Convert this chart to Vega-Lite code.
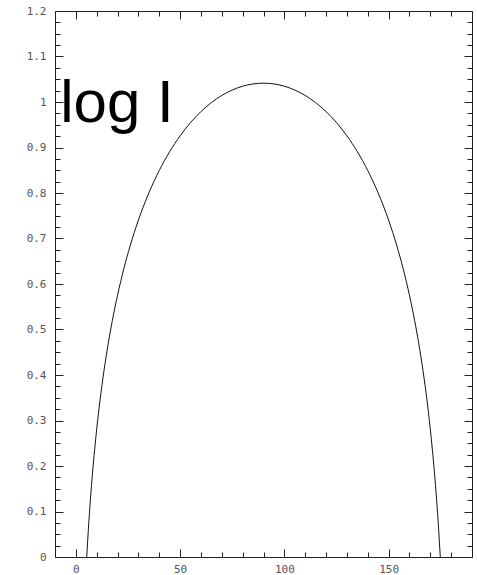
{
  "$schema": "https://vega.github.io/schema/vega-lite/v6.json",
  "width": 417,
  "height": 546,
  "autosize": {"type": "none"},
  "padding": {"left": 55, "top": 11, "right": 5, "bottom": 18},
  "background": "white",
  "config": {
    "view": {"stroke": "#222", "strokeWidth": 1},
    "axis": {
      "grid": false,
      "domain": false,
      "title": null,
      "labelFont": "DejaVu Sans Mono",
      "labelFontSize": 11,
      "labelColor": "#555555",
      "labelFlush": false,
      "labelOverlap": false,
      "tickColor": "#222",
      "tickWidth": 1
    }
  },
  "datasets": {
    "curve": [
      {"theta": 5.22, "logI": 0.0},
      {"theta": 6, "logI": 0.0606},
      {"theta": 7, "logI": 0.1273},
      {"theta": 8, "logI": 0.1850},
      {"theta": 9, "logI": 0.2357},
      {"theta": 10, "logI": 0.2811},
      {"theta": 12, "logI": 0.3593},
      {"theta": 14, "logI": 0.4251},
      {"theta": 16, "logI": 0.4817},
      {"theta": 18, "logI": 0.5314},
      {"theta": 20, "logI": 0.5754},
      {"theta": 23, "logI": 0.6333},
      {"theta": 26, "logI": 0.6832},
      {"theta": 30, "logI": 0.7404},
      {"theta": 35, "logI": 0.8000},
      {"theta": 40, "logI": 0.8495},
      {"theta": 45, "logI": 0.8909},
      {"theta": 50, "logI": 0.9256},
      {"theta": 55, "logI": 0.9548},
      {"theta": 60, "logI": 0.9789},
      {"theta": 65, "logI": 0.9987},
      {"theta": 70, "logI": 1.0144},
      {"theta": 75, "logI": 1.0263},
      {"theta": 80, "logI": 1.0347},
      {"theta": 85, "logI": 1.0397},
      {"theta": 90, "logI": 1.0414},
      {"theta": 95, "logI": 1.0397},
      {"theta": 100, "logI": 1.0347},
      {"theta": 105, "logI": 1.0263},
      {"theta": 110, "logI": 1.0144},
      {"theta": 115, "logI": 0.9987},
      {"theta": 120, "logI": 0.9789},
      {"theta": 125, "logI": 0.9548},
      {"theta": 130, "logI": 0.9256},
      {"theta": 135, "logI": 0.8909},
      {"theta": 140, "logI": 0.8495},
      {"theta": 145, "logI": 0.8000},
      {"theta": 150, "logI": 0.7404},
      {"theta": 154, "logI": 0.6832},
      {"theta": 157, "logI": 0.6333},
      {"theta": 160, "logI": 0.5754},
      {"theta": 162, "logI": 0.5314},
      {"theta": 164, "logI": 0.4817},
      {"theta": 166, "logI": 0.4251},
      {"theta": 168, "logI": 0.3593},
      {"theta": 170, "logI": 0.2811},
      {"theta": 171, "logI": 0.2357},
      {"theta": 172, "logI": 0.1850},
      {"theta": 173, "logI": 0.1273},
      {"theta": 174, "logI": 0.0606},
      {"theta": 174.78, "logI": 0.0}
    ],
    "caption": [{"x": -7.5, "y": 0.955, "label": "log I"}]
  },
  "resolve": {"axis": {"x": "independent", "y": "independent"}},
  "layer": [
    {
      "data": {"name": "curve"},
      "mark": {"type": "line", "color": "#111", "strokeWidth": 1, "interpolate": "monotone"},
      "encoding": {
        "x": {"field": "theta", "type": "quantitative",
          "scale": {"domain": [-10, 190], "nice": false, "zero": false},
          "axis": {"orient": "bottom", "values": [0, 50, 100, 150], "ticks": false, "labelPadding": 6, "format": "d"}},
        "y": {"field": "logI", "type": "quantitative",
          "scale": {"domain": [0, 1.2], "nice": false},
          "axis": {"orient": "left", "values": [0, 0.1, 0.2, 0.3, 0.4, 0.5, 0.6, 0.7, 0.8, 0.9, 1, 1.1, 1.2], "ticks": false, "labelPadding": 9, "format": "~g"}}
      }
    },
    {
      "data": {"name": "curve"},
      "mark": {"type": "line", "opacity": 0},
      "encoding": {
        "x": {"field": "theta", "type": "quantitative",
          "axis": {"orient": "bottom", "values": [0, 50, 100, 150], "labels": false, "tickSize": -8}},
        "y": {"field": "logI", "type": "quantitative",
          "axis": {"orient": "left", "values": [0, 0.1, 0.2, 0.3, 0.4, 0.5, 0.6, 0.7, 0.8, 0.9, 1, 1.1, 1.2], "labels": false, "tickSize": -8}}
      }
    },
    {
      "data": {"name": "curve"},
      "mark": {"type": "line", "opacity": 0},
      "encoding": {
        "x": {"field": "theta", "type": "quantitative",
          "axis": {"orient": "bottom", "values": [0, 10, 20, 30, 40, 50, 60, 70, 80, 90, 100, 110, 120, 130, 140, 150, 160, 170, 180], "labels": false, "tickSize": -5}},
        "y": {"field": "logI", "type": "quantitative",
          "axis": {"orient": "left", "values": [0, 0.025, 0.05, 0.075, 0.1, 0.125, 0.15, 0.175, 0.2, 0.225, 0.25, 0.275, 0.3, 0.325, 0.35, 0.375, 0.4, 0.425, 0.45, 0.475, 0.5, 0.525, 0.55, 0.575, 0.6, 0.625, 0.65, 0.675, 0.7, 0.725, 0.75, 0.775, 0.8, 0.825, 0.85, 0.875, 0.9, 0.925, 0.95, 0.975, 1, 1.025, 1.05, 1.075, 1.1, 1.125, 1.15, 1.175, 1.2], "labels": false, "tickSize": -5}}
      }
    },
    {
      "data": {"name": "curve"},
      "mark": {"type": "line", "opacity": 0},
      "encoding": {
        "x": {"field": "theta", "type": "quantitative",
          "axis": {"orient": "top", "values": [0, 50, 100, 150], "labels": false, "tickSize": -8}},
        "y": {"field": "logI", "type": "quantitative",
          "axis": {"orient": "right", "values": [0, 0.1, 0.2, 0.3, 0.4, 0.5, 0.6, 0.7, 0.8, 0.9, 1, 1.1, 1.2], "labels": false, "tickSize": -8}}
      }
    },
    {
      "data": {"name": "curve"},
      "mark": {"type": "line", "opacity": 0},
      "encoding": {
        "x": {"field": "theta", "type": "quantitative",
          "axis": {"orient": "top", "values": [0, 10, 20, 30, 40, 50, 60, 70, 80, 90, 100, 110, 120, 130, 140, 150, 160, 170, 180], "labels": false, "tickSize": -5}},
        "y": {"field": "logI", "type": "quantitative",
          "axis": {"orient": "right", "values": [0, 0.025, 0.05, 0.075, 0.1, 0.125, 0.15, 0.175, 0.2, 0.225, 0.25, 0.275, 0.3, 0.325, 0.35, 0.375, 0.4, 0.425, 0.45, 0.475, 0.5, 0.525, 0.55, 0.575, 0.6, 0.625, 0.65, 0.675, 0.7, 0.725, 0.75, 0.775, 0.8, 0.825, 0.85, 0.875, 0.9, 0.925, 0.95, 0.975, 1, 1.025, 1.05, 1.075, 1.1, 1.125, 1.15, 1.175, 1.2], "labels": false, "tickSize": -5}}
      }
    },
    {
      "data": {"name": "caption"},
      "mark": {"type": "text", "font": "Liberation Sans", "fontSize": 60, "align": "left", "baseline": "alphabetic", "color": "#000"},
      "encoding": {
        "x": {"field": "x", "type": "quantitative", "axis": null},
        "y": {"field": "y", "type": "quantitative", "axis": null},
        "text": {"field": "label"}
      }
    }
  ]
}
